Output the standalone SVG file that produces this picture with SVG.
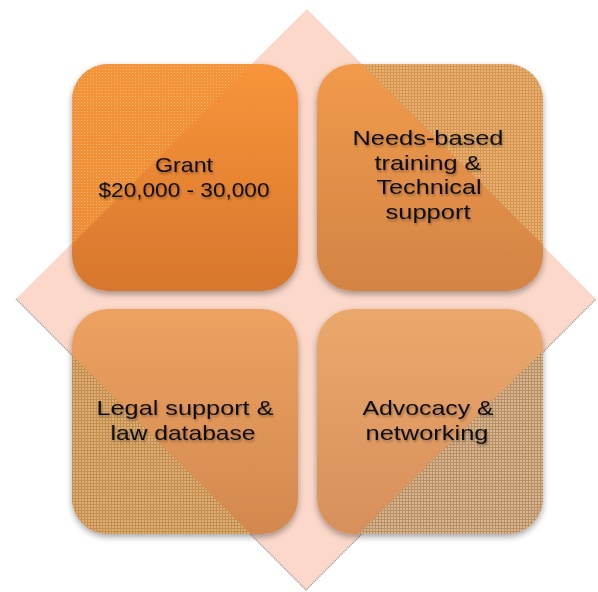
<svg xmlns="http://www.w3.org/2000/svg" width="598" height="592" viewBox="0 0 598 592">
<style>
.lbl{font-family:"Liberation Sans",Arial,sans-serif;font-size:21px;fill:#111;text-anchor:middle;filter:url(#tsh)}
.box{filter:url(#bsh)}
</style>
<defs>
<filter id="bsh" x="-10%" y="-10%" width="120%" height="125%"><feDropShadow dx="0" dy="3" stdDeviation="3" flood-color="#000" flood-opacity="0.35"/></filter>
<filter id="tsh" x="-10%" y="-30%" width="120%" height="160%"><feDropShadow dx="1" dy="2" stdDeviation="1" flood-color="#000" flood-opacity="0.3"/></filter>
<linearGradient id="g1" x1="0" y1="0" x2="0" y2="1"><stop offset="0" stop-color="#f8943a"/><stop offset="1" stop-color="#d7772d"/></linearGradient>
<linearGradient id="g2" x1="0" y1="0" x2="0" y2="1"><stop offset="0" stop-color="#f09a4c"/><stop offset="1" stop-color="#d38444"/></linearGradient>
<linearGradient id="g3" x1="0" y1="0" x2="0" y2="1"><stop offset="0" stop-color="#eda262"/><stop offset="1" stop-color="#d3884f"/></linearGradient>
<linearGradient id="g4" x1="0" y1="0" x2="0" y2="1"><stop offset="0" stop-color="#eba86c"/><stop offset="1" stop-color="#d6905b"/></linearGradient>
<pattern id="p1" width="3" height="3" patternUnits="userSpaceOnUse"><rect width="3" height="3" fill="#f39438"/><rect width="1" height="1" fill="#fbc890"/></pattern>
<pattern id="p2" width="3" height="3" patternUnits="userSpaceOnUse"><rect width="3" height="3" fill="#eab070"/><rect width="3" height="1" fill="#d49652"/><rect width="1" height="3" fill="#d49652"/></pattern>
<pattern id="p3" width="3" height="3" patternUnits="userSpaceOnUse"><rect width="3" height="3" fill="#dcae72"/><rect width="3" height="1" fill="#c48e50"/><rect width="1" height="3" fill="#c48e50"/></pattern>
<pattern id="p4" width="3" height="3" patternUnits="userSpaceOnUse"><rect width="3" height="3" fill="#d8b690"/><rect width="3" height="1" fill="#b89068"/><rect width="1" height="3" fill="#b89068"/></pattern>
<clipPath id="c1"><polygon points="0,0 316,0 0,316"/></clipPath>
<clipPath id="c2"><polygon points="298,0 598,0 598,300"/></clipPath>
<clipPath id="c3"><polygon points="0,283 0,592 309,592"/></clipPath>
<clipPath id="c4"><polygon points="598,296 598,592 300,592"/></clipPath>
</defs>
<rect width="598" height="592" fill="#fff"/>
<g id="diamond">
<polygon points="307,9 596,299 306,590 16,299" fill="#fbd8ca"/>
<polyline points="16,299 306,590 596,299" fill="none" stroke="#9a9a9a" stroke-width="1.5" stroke-dasharray="1 1"/>
</g>
<g id="connectors"/>
<g id="node-grant">
<rect class="box" x="72" y="64" width="226" height="227" rx="36" fill="url(#g1)"/>
<rect x="72" y="64" width="226" height="227" rx="36" fill="url(#p1)" clip-path="url(#c1)" opacity="0.7"/>
<text class="lbl" x="184" y="172" textLength="58" lengthAdjust="spacingAndGlyphs">Grant</text>
<text class="lbl" x="184" y="197" textLength="171" lengthAdjust="spacingAndGlyphs">$20,000 - 30,000</text>
</g>
<g id="node-training">
<rect class="box" x="317" y="64" width="226" height="227" rx="36" fill="url(#g2)"/>
<rect x="317" y="64" width="226" height="227" rx="36" fill="url(#p2)" clip-path="url(#c2)"/>
<text class="lbl" x="428" y="145" textLength="151" lengthAdjust="spacingAndGlyphs">Needs-based</text>
<text class="lbl" x="428" y="170" textLength="107" lengthAdjust="spacingAndGlyphs">training &amp;</text>
<text class="lbl" x="429" y="194" textLength="105" lengthAdjust="spacingAndGlyphs">Technical</text>
<text class="lbl" x="428" y="219" textLength="85" lengthAdjust="spacingAndGlyphs">support</text>
</g>
<g id="node-legal">
<rect class="box" x="72" y="309" width="226" height="225" rx="36" fill="url(#g3)"/>
<rect x="72" y="309" width="226" height="225" rx="36" fill="url(#p3)" clip-path="url(#c3)"/>
<text class="lbl" x="185" y="415" textLength="177" lengthAdjust="spacingAndGlyphs">Legal support &amp;</text>
<text class="lbl" x="183" y="440" textLength="145" lengthAdjust="spacingAndGlyphs">law database</text>
</g>
<g id="node-advocacy">
<rect class="box" x="317" y="309" width="226" height="225" rx="36" fill="url(#g4)"/>
<rect x="317" y="309" width="226" height="225" rx="36" fill="url(#p4)" clip-path="url(#c4)"/>
<text class="lbl" x="428" y="415" textLength="131" lengthAdjust="spacingAndGlyphs">Advocacy &amp;</text>
<text class="lbl" x="427" y="440" textLength="123" lengthAdjust="spacingAndGlyphs">networking</text>
</g>
</svg>
